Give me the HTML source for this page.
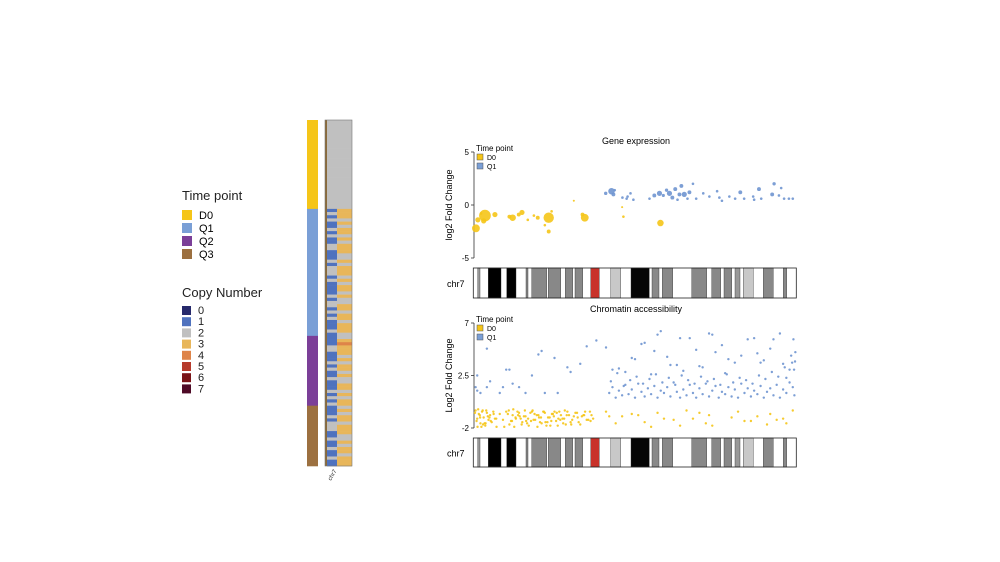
<!DOCTYPE html>
<html><head><meta charset="utf-8"><style>
html,body{margin:0;padding:0;background:#fff;}
svg{display:block;font-family:"Liberation Sans",Arial,sans-serif;}
</style></head><body>
<svg id="fig" width="1000" height="562" viewBox="0 0 1000 562">
<g>
<text x="182" y="200" font-size="13" fill="#222">Time point</text>
<rect x="182" y="210" width="10" height="10" fill="#F5C518"/><text x="199" y="219" font-size="11">D0</text>
<rect x="182" y="223" width="10" height="10" fill="#7A9FD6"/><text x="199" y="232" font-size="11">Q1</text>
<rect x="182" y="236" width="10" height="10" fill="#7B3F98"/><text x="199" y="245" font-size="11">Q2</text>
<rect x="182" y="249" width="10" height="10" fill="#9C7040"/><text x="199" y="258" font-size="11">Q3</text>
<text x="182" y="297" font-size="13" fill="#222">Copy Number</text>
</g>
<g id="cnleg"></g>
<g id="heat"></g>
<g id="ge"></g>
<g id="ca"></g>
</svg>
<script>
const NS="http://www.w3.org/2000/svg";
function mk(p,t,a){const e=document.createElementNS(NS,t);for(const k in a)e.setAttribute(k,a[k]);p.appendChild(e);return e;}

// ---- data ----
const cnLabels=["0","1","2","3","4","5","6","7"];
const cnColors=["#26296B","#4F72BE","#C0C0C0","#E8B65A","#DE8449","#B63A2C","#7A1418","#4E0A26"];
const tpNames=["D0","Q1","Q2","Q3"];
const tpRowCounts=[28,40,22,19];
const heatLeft="2222222222222222222222222222121211212112211121222121111212212121112111122111212112111212121112122211211211211";
const heatRight="2222222222222222222222222222333232332323332232333232332322332332333223433323233232233232332323323332232332333";
const geD0Pos=[0.6,1.2,3.4,6.5,3,2.2,11,12,13.9,14.9,16.7,18.6,19.8,23.2,22,24.1,23.2,34.4,33.7,46.4,57.9,46,31];
const geD0Val=[-2.2,-1.4,-1,-0.9,-1.5,-0.8,-1.1,-1.2,-0.9,-0.7,-1.4,-1,-1.2,-1.2,-1.9,-0.6,-2.5,-1.2,-0.9,-1.1,-1.7,-0.2,0.4];
const geD0Size=[3,2,4.5,2,2,1,1.5,2.5,1.5,2,1,1,1.5,4,1,1,1.5,3,1.5,1,2.5,0.8,0.8];
const geQ1Pos=[40.9,43.3,43.7,46.1,47.4,48.6,49.5,47.7,54.5,56,57.6,58.8,59.8,60.7,61.6,62.5,63.2,63.8,64.4,65.3,66.3,66.9,69,71.2,73.1,75.5,76.2,79.3,81.1,82.7,83.9,86.7,88.5,89.2,92.6,93.2,94.7,95.4,96.3,97.8,99,42.7,68,77,87];
const geQ1Val=[1.1,1,1.4,0.7,0.6,1.1,0.5,0.8,0.6,0.9,1.1,0.9,1.4,1.1,0.7,1.5,0.5,1,1.8,1,0.6,1.2,0.6,1.1,0.8,1.3,0.7,0.8,0.6,1.2,0.6,0.8,1.5,0.6,1,2,0.9,1.6,0.6,0.6,0.6,1.3,2,0.4,0.5];
const geQ1Size=[1.3,1.5,1,1,1,1,1,1,1,1.5,2,1.2,1.3,2,1.5,1.5,1,1.5,1.5,2,1,1.5,1,1,1,1,1,1,1,1.5,1,1,1.5,1,1.5,1.3,1,1,1,1,1,2.5,1,1,1];
const caD0Pos=[0.5,1,1.5,2,2.5,3,3.5,4,4.5,5,5.5,6,6.5,7,8,9,10,11,12,13,14,15,16,17,18,19,20,21,22,23,24,25,26,27,28,29,30,31,32,33,34,35,36,37,0.8,1.8,2.8,3.8,4.8,10.5,11.5,12.5,13.5,14.5,15.5,16.5,17.5,18.5,19.5,20.5,21.5,22.5,23.5,24.5,25.5,26.5,27.5,28.5,29.5,30.5,31.5,32.5,33.5,34.5,35.5,36.5,1.3,2.3,3.3,12.2,14.2,16.2,18.2,20.2,22.2,24.2,26.2,28.2,30.2,32.2,34.2,36.2,41,44,46,49,53,55,57,62,64,66,68,72,73,74,80,82,84,91,92,96,97,99,42,51,59,70,86,88,94,0.3,1.1,1.9,2.7,3.6,4.3,5.2,6.1,6.9,9.4,10.8,11.8,12.9,13.7,14.8,15.8,16.8,17.7,18.8,19.7,20.8,21.7,22.8,23.7,24.8,25.7,26.8,27.7,28.8,29.7];
const caD0Val=[-0.5,-1.2,-0.8,-1.6,-0.6,-1.1,-1.8,-0.7,-1.3,-0.9,-1.5,-0.6,-1.2,-1.9,-0.8,-1.3,-0.6,-1.7,-0.9,-1.2,-0.7,-1.5,-1,-1.8,-0.6,-1.3,-0.9,-1.6,-0.7,-1.1,-1.4,-0.6,-1.8,-0.9,-1.2,-0.6,-1.5,-1,-0.7,-1.7,-0.9,-1.3,-0.6,-1.2,-1.4,-0.9,-1.7,-0.5,-1.1,-0.8,-1.4,-1.9,-0.6,-1.2,-1,-1.6,-0.7,-1.3,-0.9,-1.5,-0.6,-1.8,-1.1,-0.8,-1.4,-0.6,-1.2,-1.7,-0.9,-1.3,-0.7,-1.5,-1,-0.6,-1.3,-0.9,-0.4,-1.9,-1.6,-0.4,-1,-1.4,-0.5,-1.1,-1.5,-0.8,-1.2,-0.5,-1.7,-1.1,-0.9,-1.4,-0.6,-1.6,-1,-0.8,-1.5,-1.9,-0.7,-1.3,-1.8,-0.5,-1.2,-1.6,-0.9,-1.8,-1.1,-0.6,-1.4,-1.7,-0.8,-1.2,-1.6,-0.5,-1,-0.9,-1.2,-0.7,-1.4,-1,-1.3,-0.7,-1.9,-1.1,-0.5,-1.6,-1.0,-1.4,-0.8,-1.2,-1.9,-0.5,-1.4,-1.1,-0.9,-1.7,-0.5,-1.2,-1.4,-0.8,-1.9,-1.1,-0.6,-1.5,-1.8,-1.0,-0.7,-1.3,-1.6,-0.9];
const caQ1Pos=[0.5,1,2,4,8,9,10,14,16,18,22,26,30,33,35,38,5,12,21,25,29,4,20,11,1,42,43,44,45,46,47,48,49,50,51,52,53,54,55,56,57,58,59,60,61,62,63,64,65,66,67,68,69,70,71,72,73,74,75,76,77,78,79,80,81,82,83,84,85,86,87,88,89,90,91,92,93,94,95,96,97,98,99,99.5,42.5,44.5,46.5,48.5,50.5,52.5,54.5,56.5,58.5,60.5,62.5,64.5,66.5,68.5,70.5,72.5,74.5,76.5,78.5,80.5,82.5,84.5,86.5,88.5,90.5,92.5,94.5,96.5,98.5,43,47,50,53,55,57,60,63,65,67,70,73,75,78,81,85,88,90,93,96,98,99.7,41,45,49,52,56,58,61,64,69,71,74,77,79,83,87,89,92,95,97,99.2,99.8,98.8,99.4];
const caQ1Val=[1.5,2.5,1,1.5,1,1.5,3,1.5,1,2.5,1,1,2.8,3.5,5,5.5,2,1.8,4.6,4,3.2,4.8,4.3,3,1.2,1,1.5,0.6,1.2,0.8,1.7,0.9,1.3,0.6,1.8,1.1,0.7,1.4,0.9,1.6,0.6,1.2,1,1.5,0.7,1.9,1.1,0.6,1.3,0.8,1.7,1,0.6,1.4,0.9,1.8,0.7,1.2,1.6,0.6,1.1,0.9,1.5,0.7,1.3,0.6,1.8,1,1.4,0.7,1.2,0.9,1.6,0.6,1.1,1.4,0.8,1.7,0.6,1.3,1,1.9,1.5,0.8,2,2.7,1.6,2.1,2.4,1.8,2.2,2.6,1.9,2.3,1.7,2.5,2.1,1.8,2.4,2,2.2,1.7,2.6,1.9,2.3,2.1,1.8,2.5,2.2,2.8,2.4,3.2,4.2,3,2.8,3.9,5.3,2.6,6,4.1,3.4,2.9,5.7,3.3,6.1,4.5,2.7,3.6,5.6,4.4,3.8,5.6,3.5,3,3.7,4.9,3.1,4,5.2,4.6,6.3,3.4,5.7,4.7,3.2,6,5.1,3.9,4.2,5.7,3.6,4.8,6.1,2.3,5.6,4.5,3.6,3,2.6];

// ---- copy number legend ----
const cnl=document.getElementById('cnleg');
cnLabels.forEach((l,i)=>{
  const r=mk(cnl,'rect',{x:182,y:306+i*11.2,width:9,height:9,fill:cnColors[i]});
  
  
  const t=mk(cnl,'text',{x:198,y:314+i*11.2,'font-size':11,fill:'#222'});t.textContent=l;
  
  
});

// ---- heatmap ----
const heat=document.getElementById('heat');
const tpCols=["#F5C518","#7A9FD6","#7B3F98","#9C7040"];
const nRows=heatLeft.length, hTop=120, hBot=466, rh=(hBot-hTop)/nRows;
let r0=0;
tpRowCounts.forEach((c,i)=>{
  const r=mk(heat,'rect',{x:307,y:hTop+r0*rh,width:11,height:c*rh+0.3,fill:tpCols[i]});
  
  
  r0+=c;
});
for(let i=0;i<nRows;i++){
  const a=mk(heat,'rect',{x:327,y:hTop+i*rh,width:10,height:rh+0.3,fill:cnColors[+heatLeft[i]]});
  
  
  const b=mk(heat,'rect',{x:337,y:hTop+i*rh,width:15,height:rh+0.3,fill:cnColors[+heatRight[i]]});
  
  
}
const ln=mk(heat,'rect',{x:325,y:hTop,width:2,height:hBot-hTop,fill:'#8a6a3a'});


const hb=mk(heat,'rect',{x:325,y:hTop,width:27,height:hBot-hTop,fill:'none',stroke:'#777','stroke-width':0.6});


const ct=mk(heat,'text',{x:331,y:481,'font-size':6,fill:'#333',transform:'rotate(-60 331 481)'});ct.textContent='chr7';



// ---- ideogram ----
const bands=[[477.7,480,'#999'],[488.3,501,'#000'],[506.7,516,'#000'],[526,528,'#888'],[531.7,546.7,'#888'],[548.3,560.7,'#888'],[565.3,572.7,'#888'],[575,582.7,'#888'],[590.7,599.3,'#c8322a'],[610.7,620.7,'#c8c8c8'],[631,649.3,'#050505'],[652,659,'#888'],[662.3,672.7,'#888'],[691.7,706.7,'#888'],[711.7,720.7,'#888'],[724,731.7,'#888'],[735,740,'#999'],[743.3,753.3,'#c8c8c8'],[763.3,773.3,'#888'],[783.3,786.7,'#888']];
function ideogram(g,y0,h){
  const lab=mk(g,'text',{x:447,y:y0+h/2+4,'font-size':9});lab.textContent='chr7';
  
  
  bands.forEach(b=>{
    const r=mk(g,'rect',{x:b[0],y:y0,width:b[1]-b[0],height:h,fill:b[2],stroke:'#333','stroke-width':0.4});
    
    
  });
  const o=mk(g,'rect',{x:473.3,y:y0,width:323,height:h,fill:'none',stroke:'#222','stroke-width':0.8});
  
  
}
function xs(p){return 474+p*3.22;}

function panel(g,title,ttlY,yTop,yBot,vMax,vMin,ticks,ylab,series){
  const ys=v=>yBot-(v-vMin)/(vMax-vMin)*(yBot-yTop);
  const t=mk(g,'text',{x:636,y:ttlY,'font-size':9,'text-anchor':'middle'});t.textContent=title;
  
  
  const ax=mk(g,'line',{x1:474,x2:474,y1:yTop,y2:yBot,stroke:'#333','stroke-width':0.8});
  
  
  ticks.forEach(v=>{
    const tk=mk(g,'line',{x1:471,x2:474,y1:ys(v),y2:ys(v),stroke:'#333','stroke-width':0.8});
    
    
    const tl=mk(g,'text',{x:469,y:ys(v)+3,'font-size':8,'text-anchor':'end'});tl.textContent=v;
    
    
  });
  const yl=mk(g,'text',{x:0,y:0,'font-size':9,'text-anchor':'middle',transform:`translate(452 ${(yTop+yBot)/2}) rotate(-90)`});yl.textContent=ylab;
  
  
  series.forEach(s=>{
    s.pos.forEach((p,i)=>{
      if(s.val[i]===undefined) return;
      const c=mk(g,'circle',{cx:xs(p),cy:ys(s.val[i]),r:s.size?s.size[i]*1.3:1.2,fill:s.col,'fill-opacity':0.9});
      
      
    });
  });
  const lt=mk(g,'text',{x:476,y:yTop-1,'font-size':8});lt.textContent='Time point';
  
  
  [['D0','#F5C518'],['Q1','#7A9FD6']].forEach((e,i)=>{
    const r=mk(g,'rect',{x:477,y:yTop+2+i*9,width:6,height:6,fill:e[1],stroke:'#555','stroke-width':0.5});
    
    
    const l=mk(g,'text',{x:487,y:yTop+8+i*9,'font-size':7});l.textContent=e[0];
    
    
  });
}
const ge=document.getElementById('ge');
panel(ge,'Gene expression',144,152,258,5,-5,[5,0,-5],'log2 Fold Change',[
  {pos:geD0Pos,val:geD0Val,size:geD0Size,col:'#F5C518',name:'gene-point-d0'},
  {pos:geQ1Pos,val:geQ1Val,size:geQ1Size,col:'#6F95D0',name:'gene-point-q1'}]);
ideogram(ge,268,30);
const ca=document.getElementById('ca');
panel(ca,'Chromatin accessibility',312,323,428,7,-2,[7,2.5,-2],'Log2 Fold Change',[
  {pos:caD0Pos,val:caD0Val,col:'#F5C518',name:'chromatin-point-d0'},
  {pos:caQ1Pos,val:caQ1Val,col:'#6F95D0',name:'chromatin-point-q1'}]);
ideogram(ca,438,29);
</script>
</body></html>
